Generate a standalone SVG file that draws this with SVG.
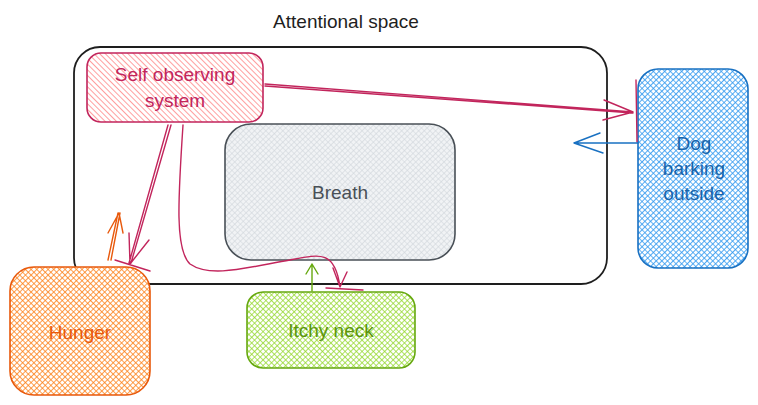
<svg xmlns="http://www.w3.org/2000/svg" width="758" height="405" viewBox="0 0 758 405">
<defs>
<pattern id="hatchRed" patternUnits="userSpaceOnUse" width="4" height="4" patternTransform="rotate(-45)">
<rect width="4" height="4" fill="#fff"/>
<line x1="0" y1="0" x2="0" y2="4" stroke="#ff8787" stroke-width="1.6"/>
</pattern>
<pattern id="xGray" patternUnits="userSpaceOnUse" width="4" height="4" patternTransform="rotate(45)">
<rect width="4" height="4" fill="#f1f3f5"/>
<path d="M0 0V4M0 0H4" stroke="#ced4da" stroke-width="1.2"/>
</pattern>
<pattern id="xOrange" patternUnits="userSpaceOnUse" width="4" height="4" patternTransform="rotate(45)">
<rect width="4" height="4" fill="#fff"/>
<path d="M0 0V4M0 0H4" stroke="#fd7e14" stroke-width="1.5"/>
</pattern>
<pattern id="xGreen" patternUnits="userSpaceOnUse" width="4" height="4" patternTransform="rotate(45)">
<rect width="4" height="4" fill="#fff"/>
<path d="M0 0V4M0 0H4" stroke="#94d82d" stroke-width="1.5"/>
</pattern>
<pattern id="xBlue" patternUnits="userSpaceOnUse" width="4" height="4" patternTransform="rotate(45)">
<rect width="4" height="4" fill="#fff"/>
<path d="M0 0V4M0 0H4" stroke="#339af0" stroke-width="1.7"/>
</pattern>
</defs>
<style>
text{font-family:"Liberation Sans",Arial,sans-serif;font-size:19px;text-anchor:middle}
.box{stroke-width:1.6}
.conn{fill:none;stroke-width:1.4;stroke-linecap:round;stroke-linejoin:round}
.red{stroke:#c2255c}
</style>

<g id="attentional-space">
<rect x="74" y="47" width="533" height="237" rx="26" fill="none" stroke="#1e1e1e" stroke-width="1.8"/>
<text x="346" y="28" fill="#1e1e1e">Attentional space</text>
</g>

<g id="breath">
<rect class="box" x="225" y="124" width="230" height="136" rx="26" fill="url(#xGray)" stroke="#495057"/>
<text x="340" y="199" fill="#495057">Breath</text>
</g>

<g id="self-observing-system">
<rect class="box" x="87" y="53" width="176" height="69" rx="14" fill="url(#hatchRed)" stroke="#c2255c"/>
<text x="175" y="81" fill="#c2255c">Self observing</text>
<text x="175" y="107" fill="#c2255c">system</text>
</g>

<g id="hunger">
<rect class="box" x="10" y="267" width="140" height="128" rx="24" fill="url(#xOrange)" stroke="#e8590c"/>
<text x="80" y="339" fill="#e8590c">Hunger</text>
</g>

<g id="itchy-neck">
<rect class="box" x="247" y="292" width="168" height="76" rx="16" fill="url(#xGreen)" stroke="#66a80f"/>
<text x="331" y="337" fill="#5c940d">Itchy neck</text>
</g>

<g id="dog-barking-outside">
<rect class="box" x="638" y="69" width="110" height="199" rx="20" fill="url(#xBlue)" stroke="#1971c2"/>
<text x="694" y="150" fill="#1864ab">Dog</text>
<text x="694" y="175" fill="#1864ab">barking</text>
<text x="694" y="200" fill="#1864ab">outside</text>
</g>

<g id="connectors">
<path class="conn red" d="M265 84 L633 112 M265 86 L633 113 M604 100 L633 112 L603 120 M636 80 L637 142"/>
<path class="conn red" d="M168 125 L129 263 M171 125 L131 263 M129 233 L130 264 L149 240 M115 260 L150 271"/>
<path class="conn red" d="M183 125 C178 200 175 250 190 264 C210 278 245 268 290 260 C320 254 335 250 340 287 M333 268 L340 287 L347 272 M326 288 L363 290"/>
<path class="conn" stroke="#e8590c" d="M108 260 L118 213 M111 260 L120 213 M108 233 L119 213 L123 233"/>
<path class="conn" stroke="#66a80f" stroke-width="1.8" d="M312 291 L312 264 M306 274 L312 264 L318 274"/>
<path class="conn" stroke="#1971c2" d="M638 143 L574 143 M600 133 L574 143 L603 153"/>
</g>
</svg>
